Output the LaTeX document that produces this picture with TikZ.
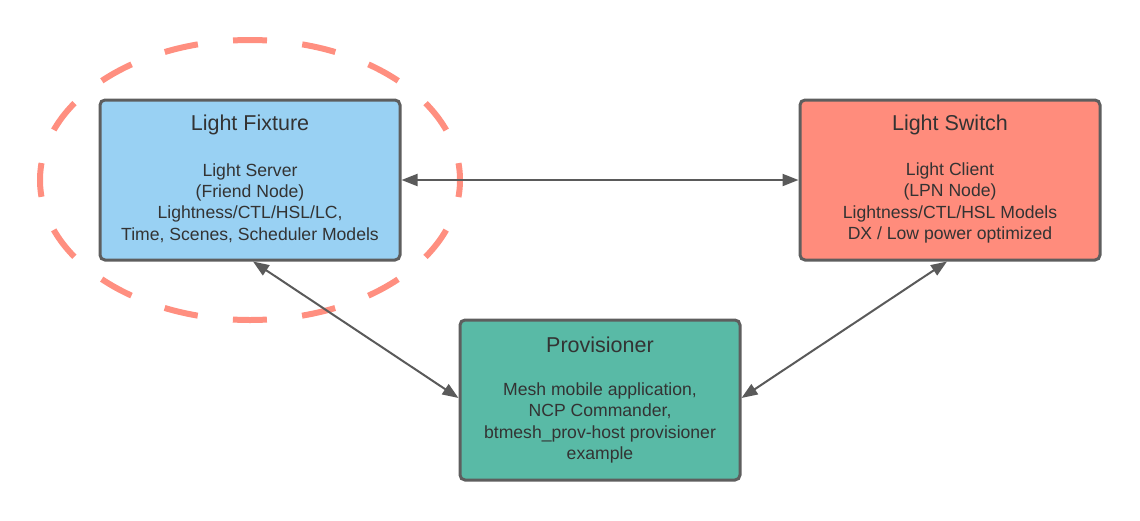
\documentclass[tikz,border=0pt]{standalone}
\usepackage{fontspec}
\setmainfont{Liberation Sans}
\usetikzlibrary{arrows.meta}
\definecolor{fixblue}{HTML}{99D1F3}
\definecolor{swred}{HTML}{FF8C7C}
\definecolor{provgreen}{HTML}{59BAA6}
\definecolor{bordergray}{HTML}{5E5E5E}
\definecolor{arrowgray}{HTML}{5A5A5A}
\definecolor{txtgray}{HTML}{333333}
\definecolor{hlred}{HTML}{FF8F80}
\begin{document}
\begin{tikzpicture}[x=1pt,y=-1pt,
  box/.style={draw=bordergray, line width=3pt, rounded corners=5pt,
    minimum width=300pt, minimum height=160pt, inner sep=0pt},
  ttl/.style={text=txtgray, font=\fontsize{21.5}{26}\selectfont, inner sep=0pt},
  bdy/.style={text=txtgray, font=\fontsize{17.6}{21.2}\selectfont, align=center, inner sep=0pt},
  arr/.style={draw=arrowgray, line width=2pt,
    {Triangle[length=16pt,width=12pt]}-{Triangle[length=16pt,width=12pt]}},
  hl/.style={draw=hlred, line width=6pt, dash pattern=on 34pt off 35.41pt, dash phase=17pt}
]
\useasboundingbox (0,0) rectangle (1140,520);

\node[box, fill=fixblue] (fix) at (250,180) {};
\node[box, fill=swred] (sw) at (950,180) {};
\node[box, fill=provgreen, minimum width=280pt] (prov) at (600,400) {};

\node[ttl] (fixt) at ([yshift=55pt]fix.center) {Light Fixture};
\node[bdy] (fixb) at ([yshift=-23pt]fix.center) {Light Server\\(Friend Node)\\Lightness/CTL/HSL/LC,\\Time, Scenes, Scheduler Models};

\node[ttl] (swt) at ([yshift=55pt]sw.center) {Light Switch};
\node[bdy] (swb) at ([yshift=-23pt]sw.center) {Light Client\\(LPN Node)\\Lightness/CTL/HSL Models\\DX / Low power optimized};

\node[ttl] (provt) at ([yshift=55pt]prov.center) {Provisioner};
\node[bdy] (provb) at ([yshift=-23pt]prov.center) {Mesh mobile application,\\NCP Commander,\\btmesh\_prov-host provisioner\\example};

\draw[hl] (250,180) ellipse [x radius=210pt, y radius=140pt];

\draw[arr] (fix.east) -- (sw.west);
\draw[arr] ([xshift=3pt]fix.south) -- ([yshift=2pt]prov.west);
\draw[arr] ([xshift=-3pt]sw.south) -- ([yshift=2pt]prov.east);
\end{tikzpicture}
\end{document}
